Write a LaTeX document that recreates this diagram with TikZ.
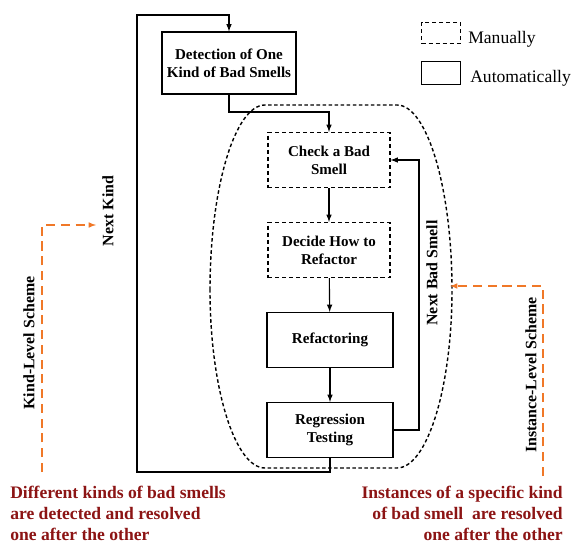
\documentclass[tikz, border = 0pt]{standalone}
\usepackage{fontspec}
\setmainfont{Liberation Serif}
\usetikzlibrary{arrows}

\definecolor{schemeorange}{RGB}{240, 120, 40}
\definecolor{notered}{RGB}{140, 20, 20}

\begin{document}
\begin{tikzpicture}[> = latex, x = 0.025 cm, y = -0.025 cm,
	autobox/.style = {draw, thick, align = center, font = \fontsize{10.7}{13}\selectfont\bfseries},
	manualbox/.style = {autobox, densely dashed},
	sidelabel/.style = {rotate = 90, font = \fontsize{11.3}{13}\selectfont\bfseries},
	scheme/.style = {schemeorange, thick, dash pattern = on 6.5pt off 4pt},
	note/.style = {notered, font = \fontsize{12.5}{15}\selectfont\bfseries}]

	\useasboundingbox (0, 0) rectangle (571, 544);

	% Instance-level region

	\draw [line width = 1pt, dash pattern = on 2.5pt off 1.8pt] (210, 290) .. controls (210, 188) and (235, 105) .. (265, 105)
		-- (397, 105) .. controls (427, 105) and (452, 188) .. (452, 290)
		.. controls (452, 388) and (427, 468) .. (397, 468)
		-- (265, 468) .. controls (235, 468) and (210, 388) .. (210, 290) -- cycle;

	% Steps

	\node [autobox, minimum width = 3.35 cm, minimum height = 1.55 cm] (detect) at (229, 63) {Detection of One\\Kind of Bad Smells};
	\node [manualbox, minimum width = 3.05 cm, minimum height = 1.375 cm] (check) at (329, 160) {Check a Bad\\Smell};
	\node [manualbox, minimum width = 3.05 cm, minimum height = 1.375 cm] (decide) at (329, 250) {Decide How to\\Refactor};
	\node [autobox, minimum width = 3.15 cm, minimum height = 1.375 cm] (refac) at (330, 340) {Refactoring};
	\node [autobox, minimum width = 3.15 cm, minimum height = 1.375 cm] (regress) at (330, 430) {Regression\\Testing};

	% Flow

	\coordinate (split) at (229, 112);
	\coordinate (kindbottom) at (137, 472);
	\coordinate (kindtop) at (137, 15);
	\coordinate (smellturn) at (419, 160);

	\draw [->, thick] (detect.south) -- (split) -| (check.north);
	\draw [->, thick] (check) -- (decide);
	\draw [->, thick] (decide) -- (refac);
	\draw [->, thick] (refac) -- (regress);
	\draw [->, thick] (regress.south) |- (kindbottom) -- (kindtop) -| (detect.north);
	\draw [->, thick] (regress.east) -| (smellturn) -- (check.east);

	\node [sidelabel] (nextkind) at (108, 211) {Next Kind};
	\node [sidelabel] (nextsmell) at (432, 273) {Next Bad Smell};

	% Legend

	\node [draw, thick, densely dashed, minimum width = 0.97 cm, minimum height = 0.53 cm] (manlegend) at (441, 33) {};
	\node [draw, thick, minimum width = 0.97 cm, minimum height = 0.57 cm] (autolegend) at (441, 73) {};
	\node [anchor = west, inner sep = 0pt, font = \fontsize{12.5}{14}\selectfont] (mantext) at (468, 39) {Manually};
	\node [anchor = west, inner sep = 0pt, font = \fontsize{12.5}{14}\selectfont] (autotext) at (470, 78) {Automatically};

	% Schemes

	\coordinate (kindfoot) at (42, 472);
	\coordinate (kindhead) at (42, 225);
	\coordinate (kindtip) at (96, 225);
	\draw [->, scheme] (kindfoot) -- (kindhead) -- (kindtip);
	\node [sidelabel] (kindlabel) at (29, 343) {Kind-Level Scheme};

	\coordinate (instfoot) at (543, 476);
	\coordinate (insthead) at (543, 286);
	\coordinate (insttip) at (450, 286);
	\draw [->, scheme] (instfoot) -- (insthead) -- (insttip);
	\node [sidelabel] (instlabel) at (531, 375) {Instance-Level Scheme};

	% Notes

	\node [note, anchor = north west, align = left, inner sep = 0pt] (kindnote) at (10, 486) {Different kinds of bad smells\\are detected and resolved\\one after the other};
	\node [note, anchor = north east, align = right, inner sep = 0pt] (instnote) at (563, 486) {Instances of a specific kind\\of bad smell~ are resolved\\one after the other};

\end{tikzpicture}
\end{document}
